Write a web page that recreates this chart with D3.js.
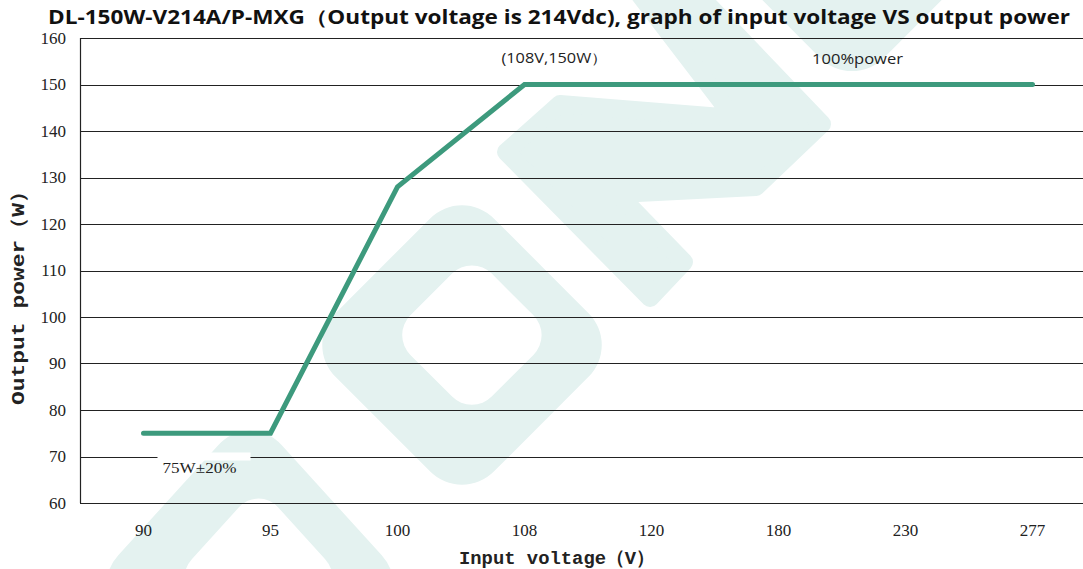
<!DOCTYPE html>
<html>
<head>
<meta charset="utf-8">
<script src="https://cdn.jsdelivr.net/npm/d3@7"></script>
<style>
  body { margin: 0; background: #fff; }
  svg { display: block; }
  .tick-label { font-family: "Liberation Serif", "DejaVu Serif", serif; font-size: 17px; fill: #222; }
  .axis-title { font-family: "Liberation Mono", "DejaVu Sans Mono", monospace; font-size: 19px; font-weight: bold; fill: #222; }
  .note { font-family: "Open Sans", "Noto Sans", sans-serif; font-size: 14px; fill: #222; }
</style>
</head>
<body>
<svg id="chart"></svg>
<script>
// input voltage categories and output power
const voltages = ['90', '95', '100', '108', '120', '180', '230', '277']
const power = [75, 75, 128, 150, 150, 150, 150, 150]
const yTicks = [60, 70, 80, 90, 100, 110, 120, 130, 140, 150, 160]

const width = 1083
const height = 569
const margin = { top: 38, right: 0, bottom: 66, left: 80 }
const wmColour = '#e4f2f0'

const svg = d3.select('#chart')
    .attr('width', width)
    .attr('height', height)

// rounded square centred on 0,0 (used for the watermark logo)
function roundSquare(a, r, dy) {
    let h = a / 2
    dy = dy || 0
    return `M${-h + r},${-h + dy} H${h - r} A${r},${r} 0 0 1 ${h},${-h + r + dy}` +
        ` V${h - r + dy} A${r},${r} 0 0 1 ${h - r},${h + dy} H${-h + r}` +
        ` A${r},${r} 0 0 1 ${-h},${h - r + dy} V${-h + r + dy} A${r},${r} 0 0 1 ${-h + r},${-h + dy} Z`
}

// light watermark in the background
const wm = svg.append('g').attr('fill', wmColour)

wm.append('path')
    .attr('transform', 'translate(462,345) rotate(45)')
    .attr('fill-rule', 'evenodd')
    .attr('d', roundSquare(224, 45) + roundSquare(115, 28, -14))

wm.append('path')
    .attr('transform', 'translate(250,590) scale(1,1.1) rotate(45)')
    .attr('fill-rule', 'evenodd')
    .attr('d', roundSquare(231, 45) + roundSquare(122, 28, -12))

wm.append('path')
    .attr('transform', 'translate(852,-80) rotate(45)')
    .attr('d', roundSquare(240, 45))

wm.append('path')
    .attr('stroke', wmColour)
    .attr('stroke-width', 18)
    .attr('stroke-linejoin', 'round')
    .attr('d', 'M636,-10 L694,-10 L822,124 L756,187 L618,194 L684,262 L650,298 L506,152 L560,104 L734,118 Z')

const x = d3.scaleBand()
    .domain(voltages)
    .range([margin.left, margin.left + voltages.length * 127])
    .padding(0)

const y = d3.scaleLinear()
    .domain([60, 160])
    .range([height - margin.bottom, margin.top])

// grid lines
svg.append('g')
    .selectAll('line')
    .data(yTicks.slice(1))
    .join('line')
    .attr('x1', margin.left)
    .attr('x2', width)
    .attr('y1', d => Math.round(y(d)) + 0.5)
    .attr('y2', d => Math.round(y(d)) + 0.5)
    .attr('stroke', '#222')
    .attr('stroke-width', 1.2)

// axis lines
svg.append('line')
    .attr('x1', margin.left + 0.5).attr('x2', margin.left + 0.5)
    .attr('y1', y(160)).attr('y2', y(60))
    .attr('stroke', '#222').attr('stroke-width', 1.2)
svg.append('line')
    .attr('x1', margin.left).attr('x2', width)
    .attr('y1', Math.round(y(60)) + 0.5).attr('y2', Math.round(y(60)) + 0.5)
    .attr('stroke', '#222').attr('stroke-width', 1.2)

// tick labels
svg.append('g')
    .selectAll('text')
    .data(yTicks)
    .join('text')
    .attr('class', 'tick-label')
    .attr('x', margin.left - 14)
    .attr('y', d => y(d))
    .attr('dy', '0.35em')
    .attr('text-anchor', 'end')
    .text(d => d)

svg.append('g')
    .selectAll('text')
    .data(voltages)
    .join('text')
    .attr('class', 'tick-label')
    .attr('x', d => x(d) + x.bandwidth() / 2)
    .attr('y', y(60) + 33)
    .attr('text-anchor', 'middle')
    .text(d => d)

// power curve
const line = d3.line()
    .x((d, i) => x(voltages[i]) + x.bandwidth() / 2)
    .y(d => y(d))

svg.append('path')
    .datum(power)
    .attr('d', line)
    .attr('fill', 'none')
    .attr('stroke', '#3d9a7d')
    .attr('stroke-width', 5)
    .attr('stroke-linecap', 'round')

// annotations
let lowX = x('90') + x.bandwidth() / 2 + 56
svg.append('rect')
    .attr('x', lowX - 42)
    .attr('y', y(70) - 4)
    .attr('width', 93)
    .attr('height', 8)
    .attr('fill', '#fff')
svg.append('text')
    .attr('class', 'tick-label')
    .attr('x', lowX)
    .attr('y', y(70) + 16)
    .attr('text-anchor', 'middle')
    .attr('textLength', 74)
    .attr('lengthAdjust', 'spacingAndGlyphs')
    .style('font-size', '15px')
    .text('75W±20%')

svg.append('text')
    .attr('class', 'note')
    .attr('x', x('108') + x.bandwidth() / 2 + 30)
    .attr('y', y(150) - 22)
    .attr('text-anchor', 'middle')
    .attr('textLength', 106)
    .attr('lengthAdjust', 'spacingAndGlyphs')
    .text('(108V,150W）')

svg.append('text')
    .attr('class', 'note')
    .attr('x', x('180') + x.bandwidth() / 2 + 79)
    .attr('y', y(150) - 21)
    .attr('text-anchor', 'middle')
    .attr('textLength', 91)
    .attr('lengthAdjust', 'spacingAndGlyphs')
    .text('100%power')

// titles
svg.append('text')
    .attr('x', 559)
    .attr('y', 24)
    .attr('text-anchor', 'middle')
    .attr('textLength', 1022)
    .attr('lengthAdjust', 'spacingAndGlyphs')
    .style('font-family', '"Open Sans", "Noto Sans", sans-serif')
    .style('font-weight', 'bold')
    .style('font-size', '19px')
    .style('fill', '#111')
    .text('DL-150W-V214A/P-MXG（Output voltage is 214Vdc), graph of input voltage VS output power')

svg.append('text')
    .attr('class', 'axis-title')
    .attr('transform', `translate(24,${(y(60) + y(160)) / 2 + 22}) rotate(-90)`)
    .attr('text-anchor', 'middle')
    .attr('textLength', 225)
    .attr('lengthAdjust', 'spacingAndGlyphs')
    .text('Output power（W）')

svg.append('text')
    .attr('class', 'axis-title')
    .attr('x', 557)
    .attr('y', 564)
    .attr('text-anchor', 'middle')
    .attr('textLength', 196)
    .attr('lengthAdjust', 'spacingAndGlyphs')
    .text('Input voltage（V）')
</script>
</body>
</html>
